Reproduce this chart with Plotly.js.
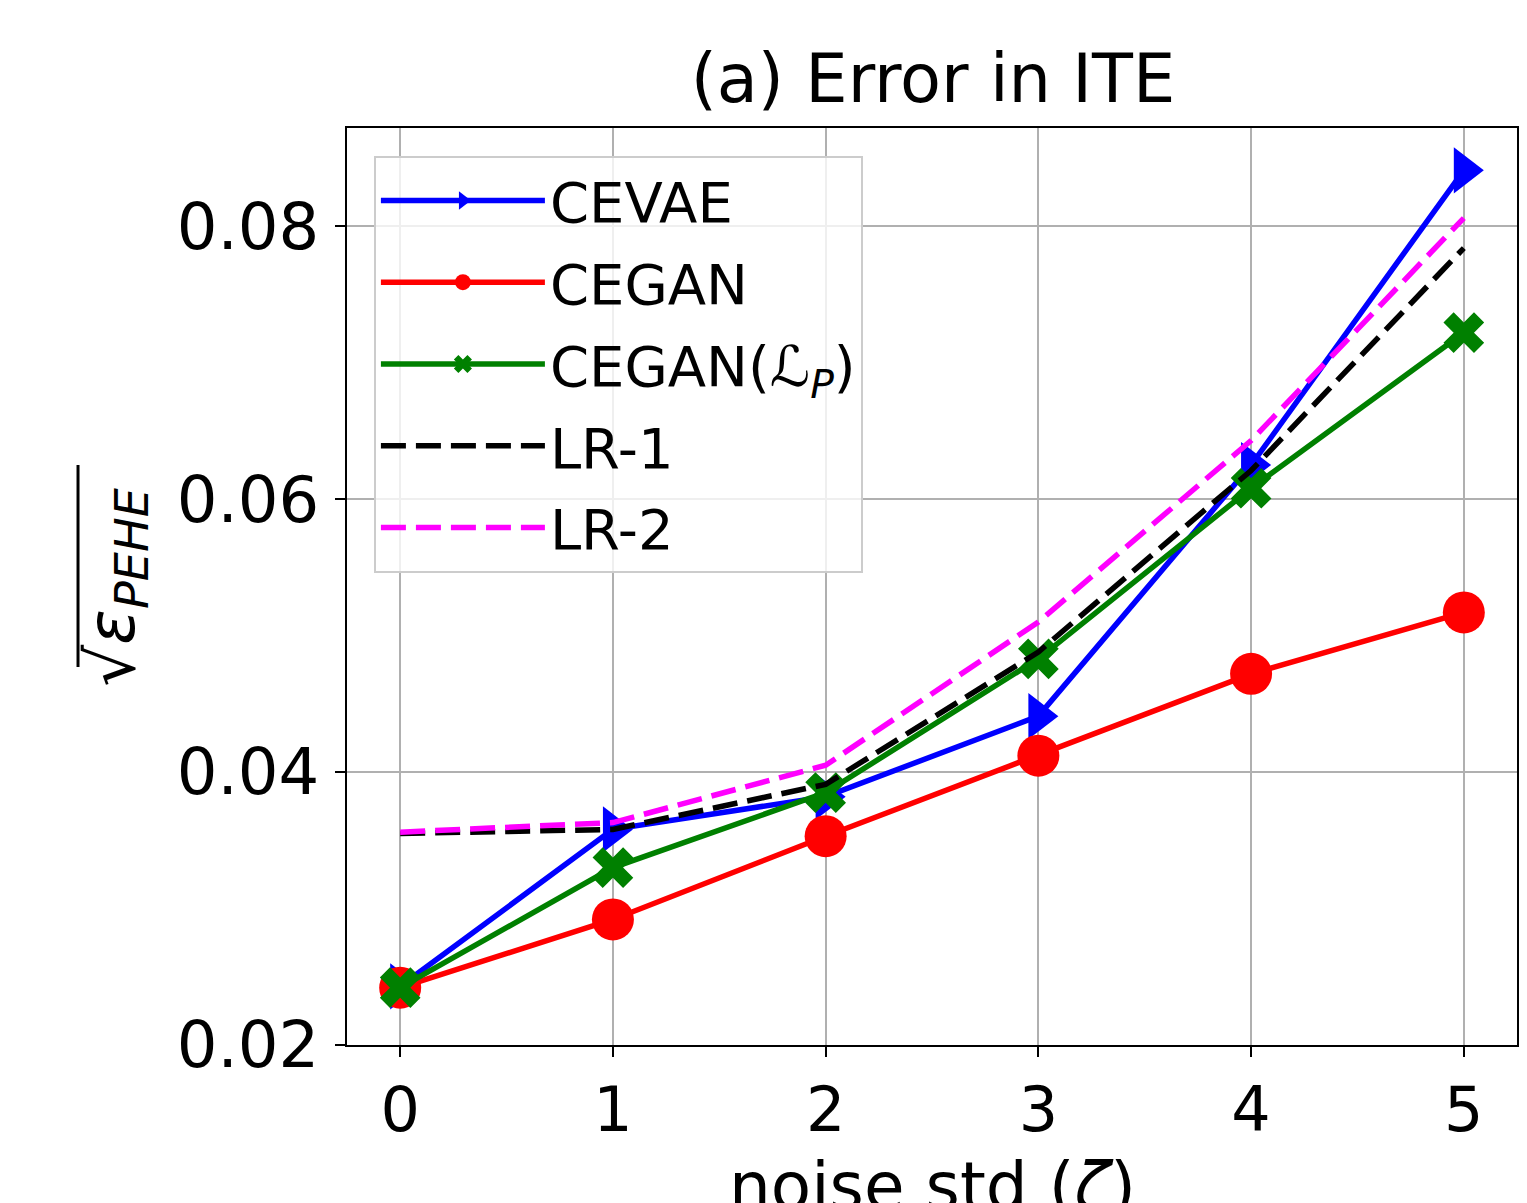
<!DOCTYPE html>
<html>
<head>
<meta charset="utf-8">
<script src="https://cdn.plot.ly/plotly-3.0.1.min.js"></script>
<style>html,body{margin:0;padding:0;background:#fff;}#chart{width:1527px;height:1203px;}</style>
</head>
<body>
<div id="chart"></div>
<script>
const noiseStd = [0, 1, 2, 3, 4, 5];
const cevae    = [0.0243, 0.0358, 0.0382, 0.0441, 0.0625, 0.0841];
const cegan    = [0.0242, 0.0292, 0.0353, 0.0412, 0.0472, 0.0517];
const ceganLp  = [0.0242, 0.0330, 0.0385, 0.0483, 0.0608, 0.0722];
const lr1      = [0.0355, 0.0358, 0.0391, 0.0488, 0.0621, 0.0784];
const lr2      = [0.0356, 0.0363, 0.0405, 0.0510, 0.0643, 0.0806];
const xTicks   = [0, 1, 2, 3, 4, 5];
const yTicks   = [0.02, 0.04, 0.06, 0.08];
const yTickText = ["0.02", "0.04", "0.06", "0.08"];

const FONT = "DejaVu Sans, sans-serif";
const traces = [
  {x: noiseStd, y: cevae, name: "CEVAE", mode: "lines+markers", legendgroup: "a",
   line: {color: "#0000ff", width: 5.5}, marker: {symbol: "triangle-right", size: 40, color: "#0000ff"}},
  {x: noiseStd, y: cegan, name: "CEGAN", mode: "lines+markers", legendgroup: "b",
   line: {color: "#ff0000", width: 5.5}, marker: {symbol: "circle", size: 42, color: "#ff0000"}},
  {x: noiseStd, y: ceganLp, name: "CEGAN(<i>ℒ<sub>P</sub></i>)", mode: "lines+markers", legendgroup: "c",
   line: {color: "#008000", width: 5.5}, marker: {symbol: "x", size: 36, color: "#008000"}},
  {x: noiseStd, y: lr1, name: "LR-1", mode: "lines", legendgroup: "d",
   line: {color: "#000000", width: 5.5, dash: "25px,10px"}},
  {x: noiseStd, y: lr2, name: "LR-2", mode: "lines", legendgroup: "e",
   line: {color: "#ff00ff", width: 5.5, dash: "25px,10px"}}
];

const layout = {
  width: 1527, height: 1203,
  margin: {l: 347, r: 10, t: 128, b: 158},
  paper_bgcolor: "#ffffff", plot_bgcolor: "#ffffff",
  font: {family: FONT, size: 60, color: "#000"},
  title: {text: "(a) Error in ITE", font: {family: FONT, size: 67, color: "#000"},
          x: 0.611, xanchor: "center", y: 0.935, yanchor: "middle"},
  xaxis: {
    range: [-0.25, 5.25], tickvals: xTicks, ticktext: xTicks.map(String),
    showgrid: true, gridcolor: "#b0b0b0", gridwidth: 2,
    zeroline: false, showline: true, linecolor: "#000", linewidth: 2, mirror: true,
    ticks: "outside", ticklen: 10, tickwidth: 2, tickcolor: "#000",
    tickfont: {family: FONT, size: 62, color: "#000"}
  },
  yaxis: {
    range: [0.02, 0.0872], tickvals: yTicks, ticktext: yTickText,
    showgrid: true, gridcolor: "#b0b0b0", gridwidth: 2,
    zeroline: false, showline: true, linecolor: "#000", linewidth: 2, mirror: true,
    ticks: "outside", ticklen: 10, tickwidth: 2, tickcolor: "#000",
    ticklabelstandoff: 3,
    tickfont: {family: FONT, size: 64, color: "#000"}
  },
  annotations: [
    {text: "noise std (<i>ζ</i>)", xref: "paper", yref: "paper", x: 0.5, y: -0.154,
     xanchor: "center", yanchor: "middle", showarrow: false,
     font: {family: FONT, size: 66, color: "#000"}},
    {text: "√<i>ε<sub>PEHE</sub></i>", xref: "paper", yref: "paper", x: -0.198, y: 0.50,
     xanchor: "center", yanchor: "middle", textangle: -90, showarrow: false,
     font: {family: FONT, size: 66, color: "#000"}}
  ],
  legend: {
    x: 0.023, y: 0.97, xanchor: "left", yanchor: "top",
    bgcolor: "rgba(255,255,255,0.8)", bordercolor: "#cccccc", borderwidth: 2,
    font: {family: FONT, size: 56, color: "#000"},
    itemwidth: 164, tracegroupgap: 6
  },
  shapes: [
    {type: "line", xref: "paper", yref: "paper", x0: -0.2299, x1: -0.2299, y0: 0.6325, y1: 0.4122,
     line: {color: "#000", width: 3}}
  ],
  showlegend: true
};

Plotly.newPlot("chart", traces, layout, {displayModeBar: false, staticPlot: true});
</script>
</body>
</html>
